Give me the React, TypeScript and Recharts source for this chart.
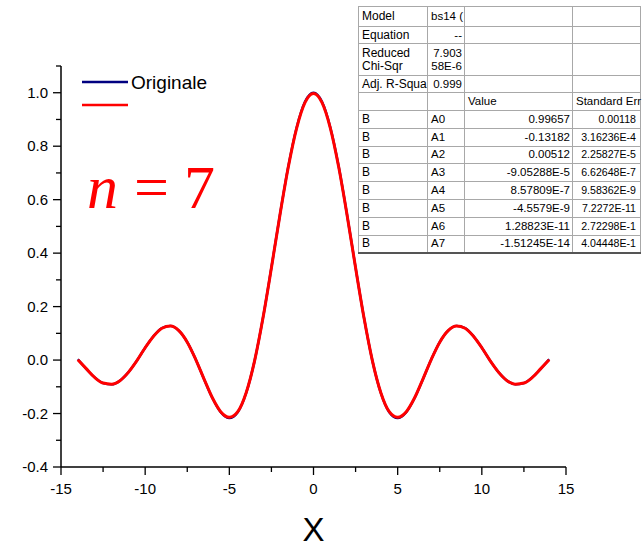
import { LineChart, Line, XAxis, YAxis, Legend } from 'recharts'

const xValues = [
  -14, -13.5, -13, -12.5, -12, -11.5, -11, -10.5, -10, -9.5, -9, -8.5, -8, -7.5, -7, -6.5, -6, -5.5, -5, -4.5,
  -4, -3.5, -3, -2.5, -2, -1.5, -1, -0.5, 0, 0.5, 1, 1.5, 2, 2.5, 3, 3.5, 4, 4.5, 5, 5.5,
  6, 6.5, 7, 7.5, 8, 8.5, 9, 9.5, 10, 10.5, 11, 11.5, 12, 12.5, 13, 13.5, 14,
]

const originale = [
  0.003, -0.033, -0.065, -0.086, -0.091, -0.077, -0.046, -0.003, 0.046, 0.09, 0.12, 0.128, 0.11, 0.067, 0.003,
  -0.072, -0.143, -0.196, -0.217, -0.195, -0.123, -0.003, 0.158, 0.346, 0.541, 0.723, 0.87, 0.967, 1.0,
  0.967, 0.87, 0.723, 0.541, 0.346, 0.158, -0.003, -0.123, -0.195, -0.217, -0.196, -0.143, -0.072, 0.003,
  0.067, 0.11, 0.128, 0.12, 0.09, 0.046, -0.003, -0.046, -0.077, -0.091, -0.086, -0.065, -0.033, 0.003,
]

const fit = [
  0.001, -0.032, -0.065, -0.086, -0.09, -0.077, -0.046, -0.003, 0.046, 0.089, 0.119, 0.127, 0.11, 0.067, 0.003,
  -0.071, -0.142, -0.194, -0.214, -0.193, -0.122, -0.003, 0.158, 0.345, 0.54, 0.721, 0.868, 0.964, 0.997,
  0.964, 0.868, 0.721, 0.54, 0.345, 0.158, -0.003, -0.122, -0.193, -0.214, -0.194, -0.142, -0.071, 0.003,
  0.067, 0.11, 0.127, 0.119, 0.089, 0.046, -0.003, -0.046, -0.077, -0.09, -0.086, -0.065, -0.032, 0.001,
]

const xTicks = [-15, -12.5, -10, -7.5, -5, -2.5, 0, 2.5, 5, 7.5, 10, 12.5, 15]
const xMajor = [-15, -10, -5, 0, 5, 10, 15]
const yTicks = [-0.4, -0.3, -0.2, -0.1, 0, 0.1, 0.2, 0.3, 0.4, 0.5, 0.6, 0.7, 0.8, 0.9, 1.0, 1.1]
const yMajor = [-0.4, -0.2, 0, 0.2, 0.4, 0.6, 0.8, 1.0]

// fit report (Origin style)
const infoLabels = ['Model', 'Equation', 'Reduced\nChi-Sqr', 'Adj. R-Squa']
const infoValues = ['bs14 (', '--', '7.903\n58E-6', '0.999']
const infoHeights = [20, 17, 32, 17]
const paramNames = ['A0', 'A1', 'A2', 'A3', 'A4', 'A5', 'A6', 'A7']
const paramValues = ['0.99657', '-0.13182', '0.00512', '-9.05288E-5', '8.57809E-7', '-4.5579E-9', '1.28823E-11', '-1.51245E-14']
const paramErrors = ['0.00118', '3.16236E-4', '2.25827E-5', '6.62648E-7', '9.58362E-9', '7.2272E-11', '2.72298E-1', '4.04448E-1']

const data = xValues.map((x, i) => ({ x, originale: originale[i], fit: fit[i] }))

const FONT = 'Liberation Sans, Arial, sans-serif'
const SERIF = 'Liberation Serif, Times New Roman, serif'

const near = (arr: number[], v: number) => arr.some(a => Math.abs(a - v) < 1e-6)

function YTick({ x, y, payload }: any) {
  const major = near(yMajor, payload.value)
  return (
    <g>
      <line x1={x - (major ? 8 : 5)} x2={x} y1={y} y2={y} stroke="#000" strokeWidth={1.3} />
      {major ? (
        <text x={x - 13} y={y + 5} textAnchor="end" fontSize={15} fontFamily={FONT} fill="#000">
          {payload.value.toFixed(1)}
        </text>
      ) : null}
    </g>
  )
}

function XTick({ x, y, payload }: any) {
  const major = near(xMajor, payload.value)
  return (
    <g>
      <line x1={x} x2={x} y1={y} y2={y + (major ? 8 : 5)} stroke="#000" strokeWidth={1.3} />
      {major ? (
        <text x={x} y={y + 27} textAnchor="middle" fontSize={15} fontFamily={FONT} fill="#000">
          {String(payload.value)}
        </text>
      ) : null}
    </g>
  )
}

function AxisTitle(props: any) {
  const vb = props.viewBox || {}
  const cx = vb.width ? vb.x + vb.width / 2 : 313.5
  return (
    <text x={cx} y={541} textAnchor="middle" fontSize={33} fontFamily={FONT} fill="#000">X</text>
  )
}

function LegendBox() {
  return (
    <svg width={150} height={44} style={{ display: 'block' }}>
      <line x1={1} x2={47} y1={12} y2={12} stroke="#000080" strokeWidth={2.5} />
      <text x={50} y={19} fontSize={19} fontFamily={FONT} fill="#000">Originale</text>
      <line x1={1} x2={47} y1={35} y2={35} stroke="#ff0000" strokeWidth={2.5} />
    </svg>
  )
}

const cell = { border: '1px solid #a8a8a8', padding: '0 2px 0 3px', overflow: 'hidden', whiteSpace: 'pre' as const }

export default function App() {
  return (
    <div style={{ position: 'relative', width: 642, height: 547, background: '#fff', overflow: 'hidden' }}>
      <style>{'html,body{margin:0;padding:0;overflow:hidden}'}</style>
      <LineChart width={642} height={547} data={data} margin={{ top: 66, right: 76, bottom: 0, left: 21 }}>
        <XAxis
          dataKey="x"
          type="number"
          domain={[-15, 15]}
          ticks={xTicks}
          interval={0}
          tickSize={0}
          tickMargin={0}
          height={80}
          axisLine={{ stroke: '#000', strokeWidth: 1.5 }}
          tick={<XTick />}
          label={{ content: (p: any) => <AxisTitle {...p} /> }}
        />
        <YAxis
          type="number"
          domain={[-0.4, 1.1]}
          ticks={yTicks}
          interval={0}
          tickSize={0}
          tickMargin={0}
          width={40}
          axisLine={{ stroke: '#000', strokeWidth: 1.5 }}
          tick={<YTick />}
        />
        <Legend
          layout="vertical"
          align="center"
          verticalAlign="middle"
          wrapperStyle={{ left: 81, top: 70, width: 150, height: 44 }}
          content={() => <LegendBox />}
        />
        <Line type="monotone" dataKey="originale" name="Originale" stroke="#000080" strokeWidth={2.4} dot={false} isAnimationActive={false} />
        <Line type="monotone" dataKey="fit" name="" stroke="#ff0000" strokeWidth={3} dot={false} isAnimationActive={false} />
      </LineChart>

      <svg width={200} height={70} style={{ position: 'absolute', left: 70, top: 150 }}>
        <text x={17} y={58} fontSize={62} fontFamily={SERIF} fill="#ff0000" fontStyle="italic">n</text>
        <text x={64} y={58} fontSize={62} fontFamily={SERIF} fill="#ff0000">=</text>
        <text x={114} y={58} fontSize={62} fontFamily={SERIF} fill="#ff0000">7</text>
      </svg>

      <table
        style={{
          position: 'absolute', left: 358, top: 6, borderCollapse: 'collapse', tableLayout: 'fixed',
          fontFamily: FONT, fontSize: 11.5, lineHeight: '13px', color: '#000', width: 282,
          borderTop: '1px solid #000', borderLeft: '1px solid #333', borderBottom: '2px solid #555',
        }}
      >
        <colgroup>
          <col style={{ width: 69 }} />
          <col style={{ width: 37 }} />
          <col style={{ width: 108 }} />
          <col style={{ width: 68 }} />
        </colgroup>
        <tbody>
          {infoLabels.map((label, i) => (
            <tr key={label} style={{ height: infoHeights[i] }}>
              <td style={{ ...cell, fontSize: 12 }}>{label}</td>
              <td style={{ ...cell, textAlign: i === 0 ? 'left' : 'right' }}>{infoValues[i]}</td>
              <td style={cell}></td>
              <td style={cell}></td>
            </tr>
          ))}
          <tr style={{ height: 18 }}>
            <td style={cell}></td>
            <td style={cell}></td>
            <td style={cell}>Value</td>
            <td style={{ ...cell, overflow: 'visible' }}>Standard Err</td>
          </tr>
          {paramNames.map((p, i) => (
            <tr key={p} style={{ height: 17.8 }}>
              <td style={{ ...cell, fontSize: 12 }}>B</td>
              <td style={cell}>{p}</td>
              <td style={{ ...cell, textAlign: 'right' }}>{paramValues[i]}</td>
              <td style={{ ...cell, textAlign: 'right', padding: '0 4px 0 1px', fontSize: 10.6, overflow: 'visible' }}>{paramErrors[i]}</td>
            </tr>
          ))}
        </tbody>
      </table>
    </div>
  )
}
